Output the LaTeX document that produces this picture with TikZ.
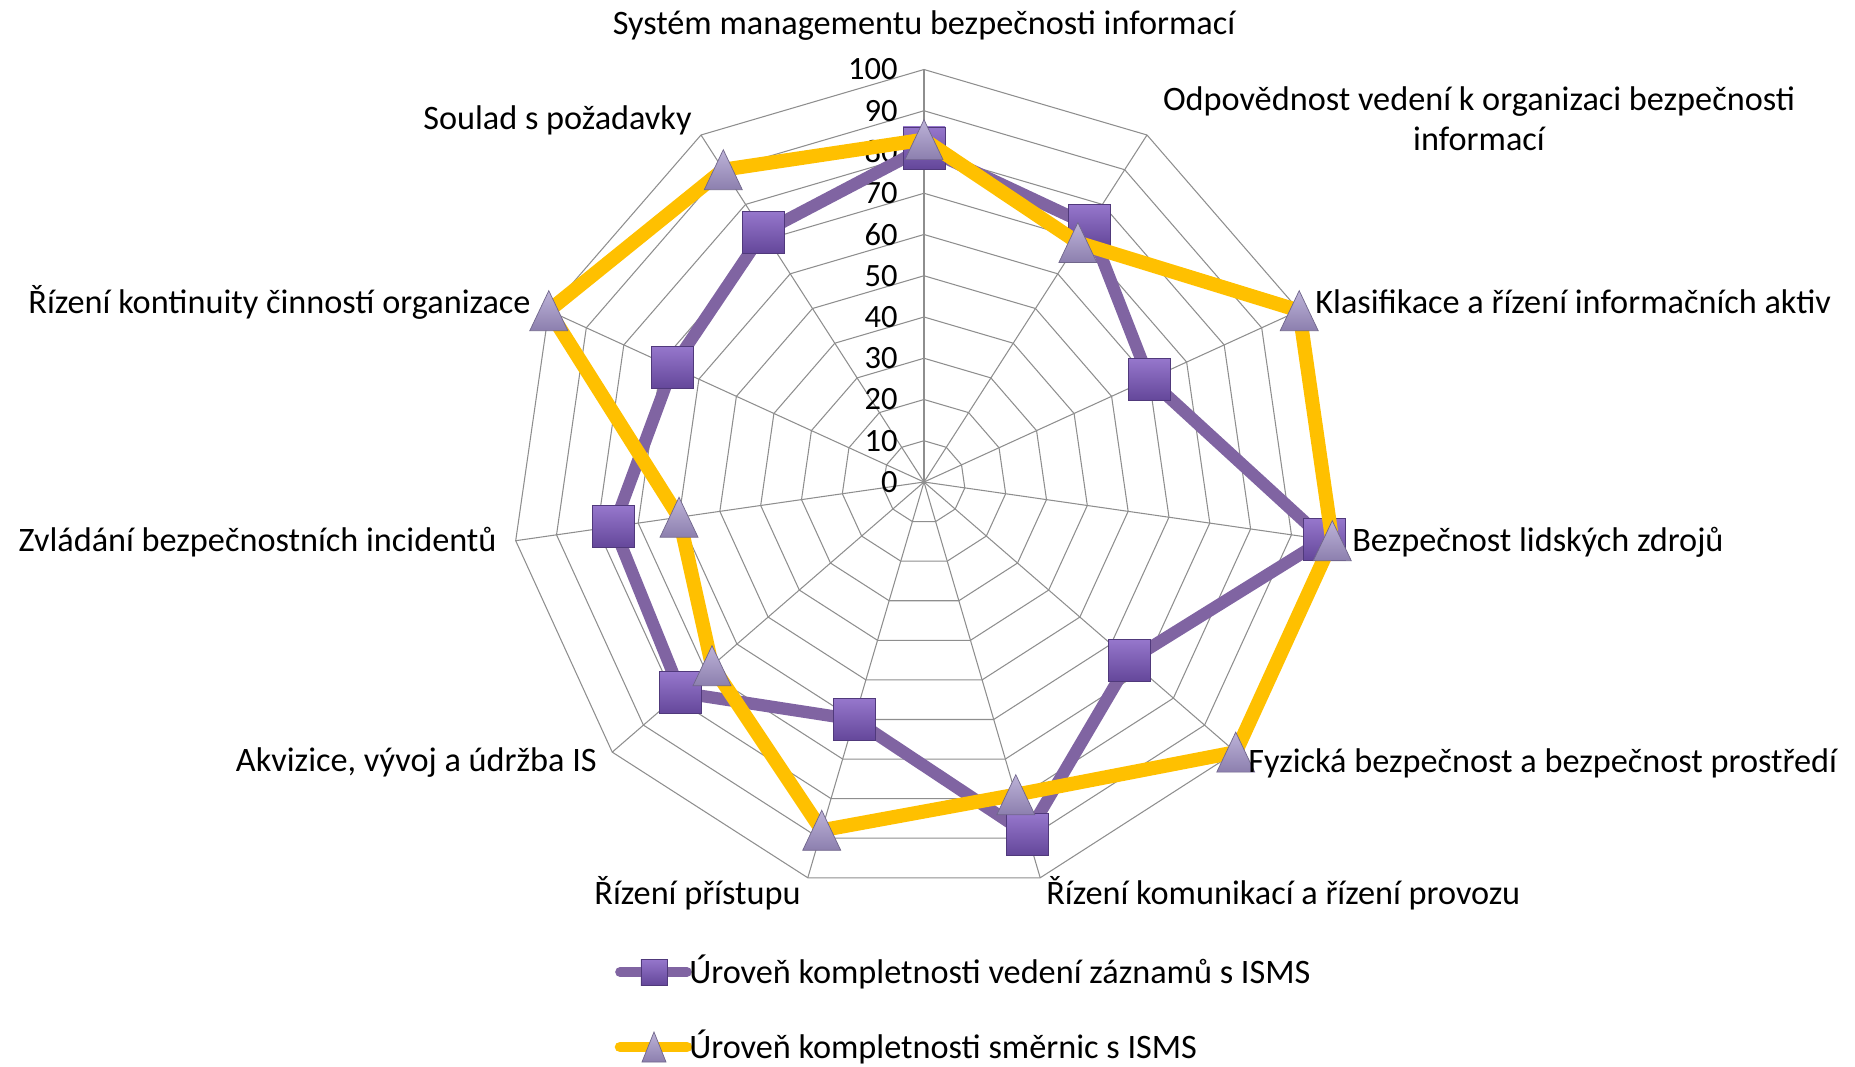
\documentclass[tikz,border=0pt]{standalone}
\usepackage{fontspec}
\setmainfont{Carlito}
\definecolor{gridgray}{HTML}{8E8E8E}
\definecolor{isviolet}{HTML}{8064A2}
\definecolor{isyellow}{HTML}{FFC000}
\definecolor{sqtop}{HTML}{9677CC}
\definecolor{sqbot}{HTML}{64479A}
\definecolor{tritop}{HTML}{BDB3D8}
\definecolor{tribot}{HTML}{8C7FAE}
\begin{document}
\begin{tikzpicture}[x=0.02cm, y=0.02cm,
    grid/.style={gridgray, line width=0.6pt},
    lbl/.style={font=\fontsize{19.5}{23}\selectfont, inner sep=0pt},
    tick/.style={font=\fontsize{18.5}{22}\selectfont, inner sep=0pt, anchor=east},
    violetline/.style={isviolet, line width=7pt, line join=round},
    yellowline/.style={isyellow, line width=8pt, line join=round},
    sq/.style={draw=sqbot!80!black, line width=0.4pt, top color=sqtop, bottom color=sqbot},
    tri/.style={draw=tribot!80!black, line width=0.4pt, top color=tritop, bottom color=tribot}]
    \useasboundingbox (-924,-584) rectangle (931,482);
    \foreach \r in {10,20,...,100} {
        \draw[grid] (90:{\r*4.125}) \foreach \k in {1,...,10} { -- ({90-\k*360/11}:{\r*4.125}) } -- cycle;
    }
    \foreach \k in {0,...,10} {
        \draw[grid] (0,0) -- ({90-\k*360/11}:412.5);
    }
    \foreach \v in {0,10,...,100} {
        \node[tick] (t\v) at (-26, {\v*4.125}) {\v};
    }
    \foreach \v [count=\k from 0] in {81,74,60,98,66,89,60,78,76,67,72} {
        \coordinate (a\k) at ({90-\k*360/11}:{\v*4.125});
    }
    \foreach \v [count=\k from 0] in {83,69,100,100,100,79,88,68,60,100,90} {
        \coordinate (b\k) at ({90-\k*360/11}:{\v*4.125});
    }
    \draw[violetline] (a0) \foreach \k in {1,...,10} { -- (a\k) } -- cycle;
    \foreach \k in {0,...,10} {
        \draw[sq] (a\k) ++(-21,-21) rectangle ++(42,42);
    }
    \draw[yellowline] (b0) \foreach \k in {1,...,10} { -- (b\k) } -- cycle;
    \foreach \k in {0,...,10} {
        \draw[tri] (b\k) ++(-19,-20) -- ++(38,0) -- ++(-19,40) -- cycle;
    }
    \node[lbl] (c0) at (0,456) {Systém managementu bezpečnosti informací};
    \node[lbl, align=center] (c1) at (555,363) {Odpovědnost vedení k organizaci bezpečnosti\\informací};
    \node[lbl, anchor=west] (c2) at (391,180) {Klasifikace a řízení informačních aktiv};
    \node[lbl, anchor=west] (c3) at (428,-60) {Bezpečnost lidských zdrojů};
    \node[lbl, anchor=west] (c4) at (324,-281) {Fyzická bezpečnost a bezpečnost prostředí};
    \node[lbl, anchor=west] (c5) at (122,-411) {Řízení komunikací a řízení provozu};
    \node[lbl, anchor=east] (c6) at (-123,-411) {Řízení přístupu};
    \node[lbl, anchor=east] (c7) at (-327,-281) {Akvizice, vývoj a údržba IS};
    \node[lbl, anchor=east] (c8) at (-427,-60) {Zvládání bezpečnostních incidentů};
    \node[lbl, anchor=east] (c9) at (-393,180) {Řízení kontinuity činností organizace};
    \node[lbl, anchor=east] (c10) at (-232,362) {Soulad s požadavky};
    \coordinate (la1) at (-304,-490);
    \coordinate (lm1) at (-270,-490);
    \coordinate (lb1) at (-237,-490);
    \coordinate (la2) at (-304,-565);
    \coordinate (lm2) at (-270,-565);
    \coordinate (lb2) at (-237,-565);
    \draw[isviolet, line width=5.5pt, line cap=round] (la1) -- (lb1);
    \draw[sq] (lm1) ++(-13,-13) rectangle ++(26,26);
    \draw[isyellow, line width=6pt, line cap=round] (la2) -- (lb2);
    \draw[tri] (lm2) ++(-12,-15) -- ++(24,0) -- ++(-12,30) -- cycle;
    \node[lbl, anchor=west] (leg1) at (-235,-490) {Úroveň kompletnosti vedení záznamů s ISMS};
    \node[lbl, anchor=west] (leg2) at (-235,-565) {Úroveň kompletnosti směrnic s ISMS};
\end{tikzpicture}
\end{document}
